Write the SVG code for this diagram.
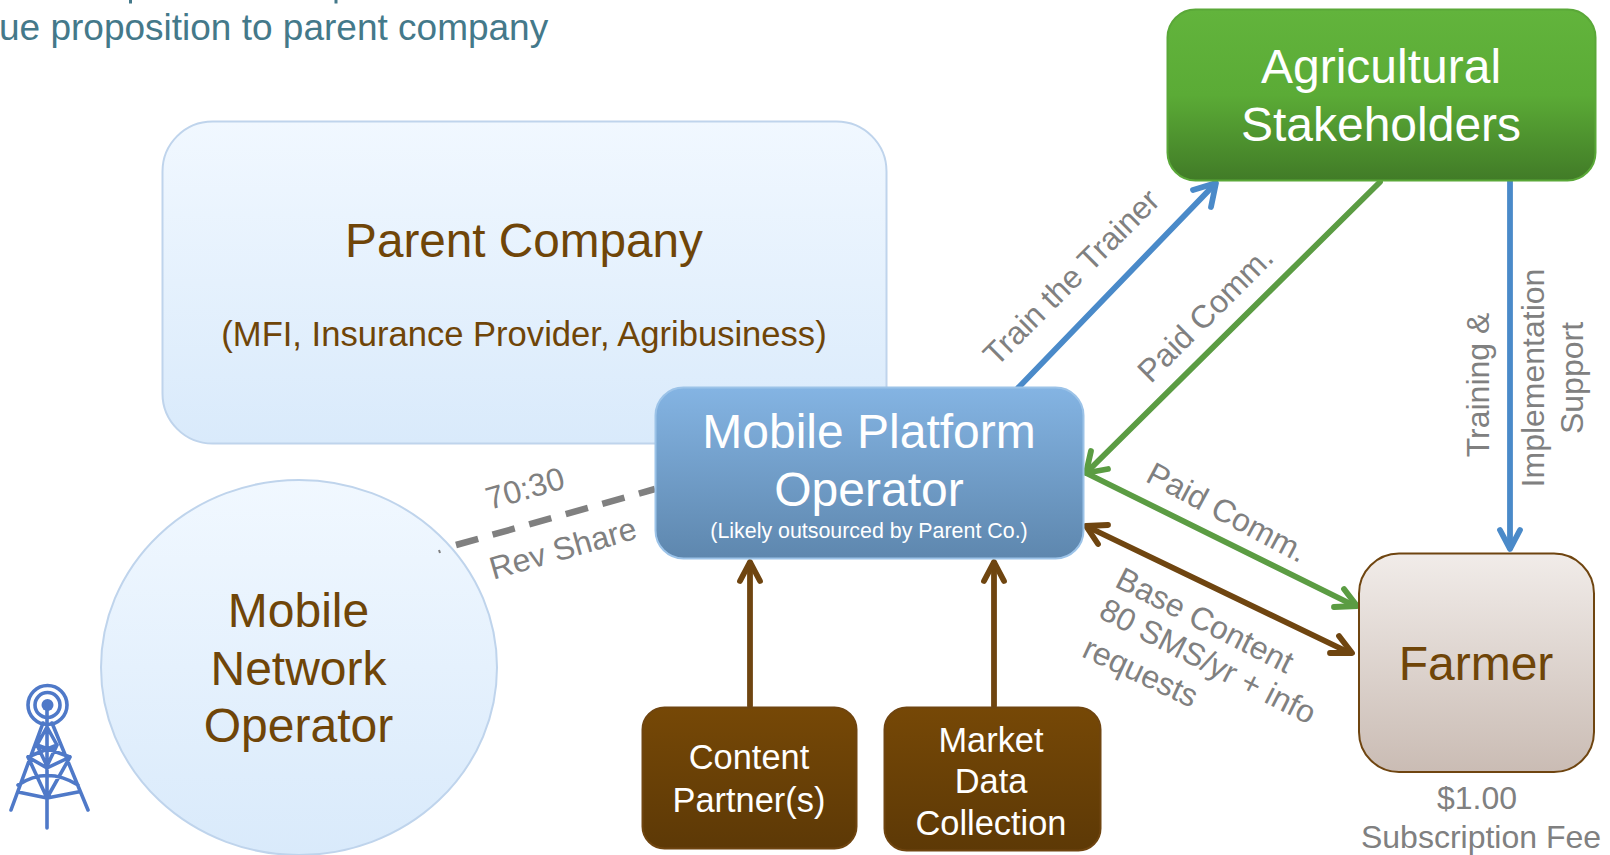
<svg xmlns="http://www.w3.org/2000/svg" width="1610" height="855" viewBox="0 0 1610 855">
<style>
text{font-family:"Liberation Sans",Arial,sans-serif;text-anchor:middle}
.brown{fill:#6f4508}.white{fill:#fff}.gray{fill:#808080}
.c{fill:none;stroke-width:5.800;stroke-linecap:round;stroke-linejoin:round}
.ar{fill:none;stroke-width:5.800;stroke-linecap:round;stroke-linejoin:round}
.tw{fill:none;stroke:#4f79c8;stroke-width:3.600;stroke-linecap:round;stroke-linejoin:round}
</style>
<defs>
<linearGradient id="lb" x1="0" y1="0" x2="0" y2="1"><stop offset="0" stop-color="#f1f8ff"/><stop offset="1" stop-color="#d9eafb"/></linearGradient>
<linearGradient id="blue" x1="0" y1="0" x2="0" y2="1"><stop offset="0" stop-color="#84b4e3"/><stop offset="1" stop-color="#5e87ae"/></linearGradient>
<linearGradient id="green" x1="0" y1="0" x2="0" y2="1"><stop offset="0" stop-color="#62b43c"/><stop offset="0.5" stop-color="#5bab36"/><stop offset="1" stop-color="#417b27"/></linearGradient>
<linearGradient id="tan" x1="0" y1="0" x2="0" y2="1"><stop offset="0" stop-color="#f1ece9"/><stop offset="1" stop-color="#cabcb4"/></linearGradient>
<linearGradient id="br" x1="0" y1="0" x2="0" y2="1"><stop offset="0" stop-color="#764806"/><stop offset="1" stop-color="#5d3906"/></linearGradient>
</defs>
<rect width="1610" height="855" fill="#fff"/>
<g id="caption">
<line x1="130.500" y1="0" x2="130.500" y2="3.500" stroke="#44798a" stroke-width="3"/>
<line x1="336" y1="0" x2="336" y2="3.500" stroke="#44798a" stroke-width="3"/>
<text x="-1" y="40" font-size="37" fill="#44798a" style="text-anchor:start">ue proposition to parent company</text>
</g>
<g id="parent-company">
<rect x="162.500" y="121.500" width="724" height="322" rx="50" fill="url(#lb)" stroke="#bfd4ec" stroke-width="2"/>
<text x="524" y="257" font-size="47.700" class="brown">Parent Company</text>
<text x="524" y="346" font-size="34.600" class="brown">(MFI, Insurance Provider, Agribusiness)</text>
</g>
<g id="mobile-network-operator">
<ellipse cx="299" cy="667.500" rx="198" ry="187.500" fill="url(#lb)" stroke="#bfd4ec" stroke-width="2"/>
<text x="298.500" y="627" font-size="48" class="brown">Mobile</text>
<text x="298.500" y="685" font-size="48" class="brown">Network</text>
<text x="298.500" y="742" font-size="48" class="brown">Operator</text>
</g>
<g id="tower">
<circle cx="47.500" cy="705" r="19.500" class="tw"/><circle cx="47.500" cy="705" r="12.500" class="tw"/>
<circle cx="47.500" cy="705" r="6" fill="#4f79c8"/>
<path class="tw" d="M47 705V828M43 723L11 810M52 723L88 810M47 727L37 745L47 766L57 745ZM37 745L70 757M57 745L28 757M28 757L47 768L70 757M28 757L47 798L70 757M18 785Q47 766 78 785M18 792L47 798L78 792"/>
</g>
<g id="connectors">
<g class="c">
<path d="M1018 388L1214 185" stroke="#4a8ac9"/><path class="ar" stroke="#4a8ac9" d="M1193 190L1216 183L1211 207"/>
<path d="M1380 182L1087 472" stroke="#5b9c43"/><path class="ar" stroke="#5b9c43" d="M1091 451L1086 473L1108 469"/>
<path d="M1510 181V548" stroke="#4a8ac9"/><path class="ar" stroke="#4a8ac9" d="M1500 530L1510 549L1520 530"/>
<path d="M1086 473L1355 606" stroke="#5b9c43"/><path class="ar" stroke="#5b9c43" d="M1344 589L1357 606L1334 607"/>
<path d="M1088 527L1350 653" stroke="#6f4510"/><path class="ar" stroke="#6f4510" d="M1108 525L1086 526L1098 544M1339 636L1352 653L1330 653"/>
<path d="M750 706V563" stroke="#6f4510"/><path class="ar" stroke="#6f4510" d="M740 581L750 562L760 581"/>
<path d="M994 706V563" stroke="#6f4510"/><path class="ar" stroke="#6f4510" d="M984 581L994 562L1004 581"/>
</g>
<path d="M456 545L655 489" fill="none" stroke="#808080" stroke-width="6.500" stroke-dasharray="23 15"/>
<path d="M439 550L440 553" fill="none" stroke="#808080" stroke-width="2"/>
</g>
<g id="mobile-platform-operator">
<rect x="655.500" y="387.500" width="428" height="171" rx="28" fill="url(#blue)" stroke="#9cc3e8" stroke-width="2"/>
<text x="869" y="448" font-size="48" class="white">Mobile Platform</text>
<text x="869" y="506" font-size="48" class="white">Operator</text>
<text x="869" y="538" font-size="21.400" class="white">(Likely outsourced by Parent Co.)</text>
</g>
<g id="agricultural-stakeholders">
<rect x="1167.500" y="9.500" width="428" height="171" rx="28" fill="url(#green)" stroke="#5aa838" stroke-width="2"/>
<text x="1381" y="83" font-size="48" class="white">Agricultural</text>
<text x="1381" y="141" font-size="48" class="white">Stakeholders</text>
</g>
<g id="farmer">
<rect x="1359" y="553.500" width="235" height="218.500" rx="40" fill="url(#tan)" stroke="#6f4510" stroke-width="2"/>
<text x="1476" y="680" font-size="48" class="brown">Farmer</text>
<text x="1477" y="809" font-size="32" class="gray">$1.00</text>
<text x="1481" y="848" font-size="32" class="gray">Subscription Fee</text>
</g>
<g id="content-partners">
<rect x="642.500" y="707.500" width="214" height="141" rx="22" fill="url(#br)" stroke="#6f4510" stroke-width="2"/>
<text x="749" y="769" font-size="34.400" class="white">Content</text>
<text x="749" y="812" font-size="34.400" class="white">Partner(s)</text>
</g>
<g id="market-data-collection">
<rect x="884.500" y="707.500" width="216" height="143" rx="22" fill="url(#br)" stroke="#6f4510" stroke-width="2"/>
<text x="991" y="752" font-size="34.400" class="white">Market</text>
<text x="991" y="793" font-size="34.400" class="white">Data</text>
<text x="991" y="835" font-size="34.400" class="white">Collection</text>
</g>
<g id="labels" class="gray" font-size="32">
<text transform="translate(1079 285) rotate(-45)">Train the Trainer</text>
<text transform="translate(1213 322) rotate(-45)">Paid Comm.</text>
<text transform="translate(1489 385) rotate(-90)">Training &amp;</text>
<text transform="translate(1544 378) rotate(-90)">Implementation</text>
<text transform="translate(1583 378) rotate(-90)">Support</text>
<text transform="translate(1222 522) rotate(28)">Paid Comm.</text>
<text transform="translate(528 499) rotate(-16)">70:30</text>
<text transform="translate(566 559) rotate(-16)">Rev Share</text>
<text transform="translate(1200 630) rotate(27)">Base Content</text>
<text transform="translate(1203 671) rotate(27)">80 SMS/yr + info</text>
<text transform="translate(1136 682) rotate(25)">requests</text>
</g>
</svg>
